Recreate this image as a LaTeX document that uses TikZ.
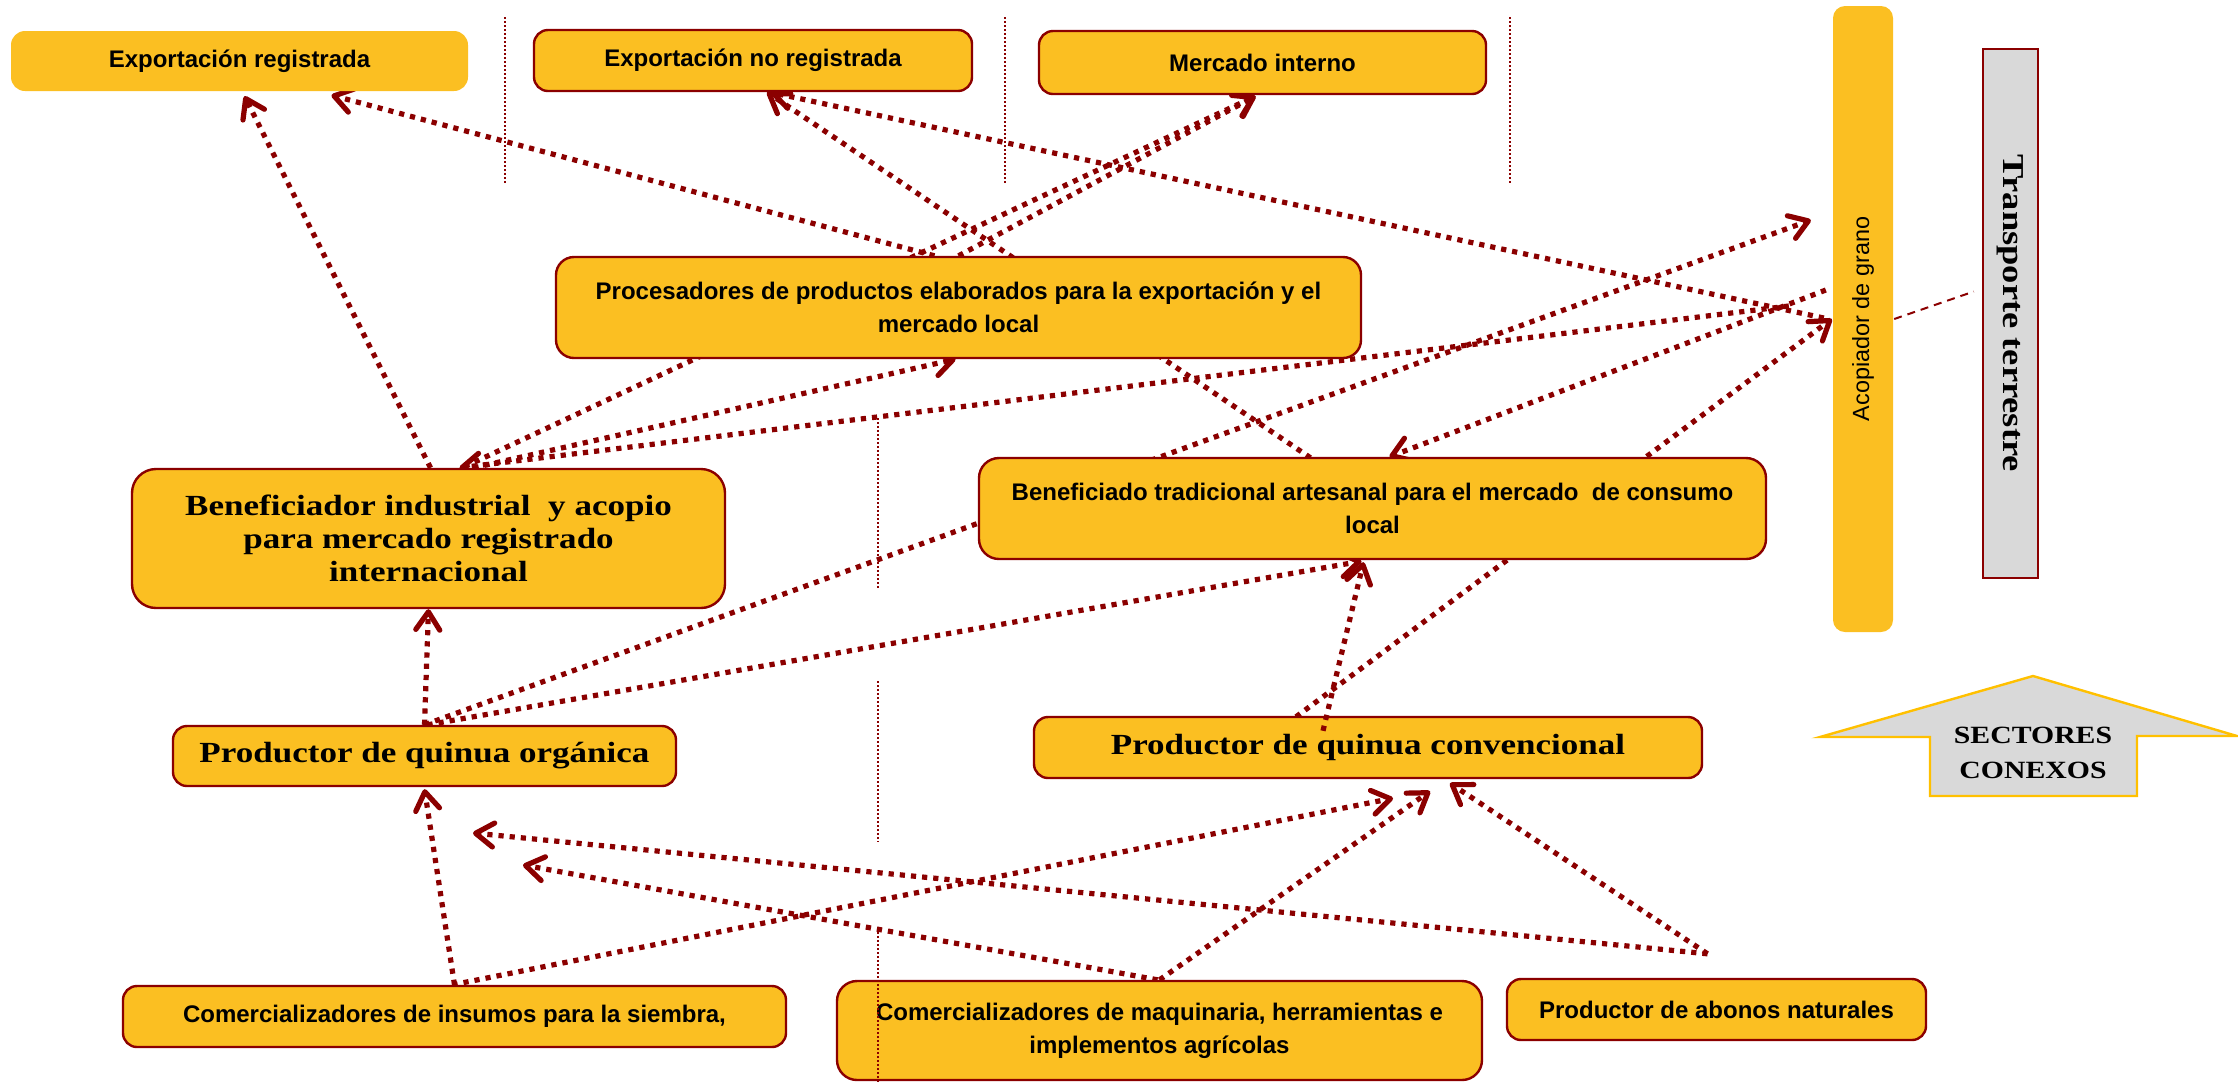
\documentclass[tikz,border=0pt]{standalone}
\usepackage{fontspec}
\newfontfamily\labelsans{Liberation Sans}
\newfontfamily\labelserif{Liberation Serif}[FakeStretch=1.2]
\usetikzlibrary{arrows.meta}
\definecolor{boxfill}{HTML}{FBBF22}
\definecolor{wine}{HTML}{8B0000}
\definecolor{panelgray}{HTML}{D9D9D9}
\definecolor{goldline}{HTML}{FFC000}
\pgfdeclarelayer{links}
\pgfsetlayers{links,main}

\begin{document}
\begin{tikzpicture}[x=0.5pt,y=-0.5pt,
  box/.style={draw=wine, line width=1.2pt, fill=boxfill, rounded corners=7pt, inner sep=0pt, align=center},
  sanstext/.style={font=\labelsans\bfseries\fontsize{12}{16.5}\selectfont},
  seriftext/.style={font=\labelserif\bfseries\fontsize{14.6}{16.5}\selectfont},
  link/.style={draw=wine, line width=2.6pt, dash pattern=on 2.6pt off 3pt,
    -{Straight Barb[length=9pt,width=12pt,round]}},
  guide/.style={draw=wine, line width=1pt, dash pattern=on 1pt off 1pt},
]
\useasboundingbox (0,0) rectangle (2238,1084);

% markets
\node[box, draw=none, sanstext, minimum width=228.5pt, minimum height=30pt] (expreg) at (239.5,61) {Exportación registrada};
\node[box, sanstext, minimum width=219pt, minimum height=30.5pt] (expnoreg) at (753,60.5) {Exportación no registrada};
\node[box, sanstext, minimum width=223.5pt, minimum height=31.5pt] (mercado) at (1262.5,62.5) {Mercado interno};

% processing stage
\node[box, sanstext, rounded corners=9pt, minimum width=402.5pt, minimum height=50.5pt] (proc) at (958.5,307.5)
  {Procesadores de productos elaborados para la exportación y el\\mercado local};
\node[box, seriftext, rounded corners=12pt, minimum width=296.5pt, minimum height=69.5pt] (bi) at (428.5,538.5)
  {Beneficiador industrial~ y acopio\\para mercado registrado\\internacional};
\node[box, sanstext, rounded corners=10pt, minimum width=393.5pt, minimum height=50.5pt] (bt) at (1372.5,508.5)
  {Beneficiado tradicional artesanal para el mercado~ de consumo\\local};

% grain collector and transport
\node[box, draw=none, rounded corners=6pt, minimum width=30pt, minimum height=313pt] (acop) at (1863,319) {};
\node[rotate=90, font=\labelsans\fontsize{11.7}{14}\selectfont] (acoptext) at (acop.center) {Acopiador de grano};
\node[draw=wine, line width=1.2pt, fill=panelgray, inner sep=0pt, minimum width=27.5pt, minimum height=264.5pt] (transp) at (2010.5,313.5) {};
\node[rotate=-90, font=\labelserif\bfseries\fontsize{15.2}{17}\selectfont] (transptext) at (transp.center) {Transporte terrestre};

% producers
\node[box, seriftext, minimum width=251.5pt, minimum height=30pt] (org) at (424.5,756) {Productor de quinua orgánica};
\node[box, seriftext, minimum width=334pt, minimum height=30.5pt] (conv) at (1368,747.5) {Productor de quinua convencional};

% suppliers
\node[box, sanstext, minimum width=331.5pt, minimum height=30.5pt] (ins) at (454.5,1016.5) {Comercializadores de insumos para la siembra,};
\node[box, sanstext, rounded corners=10pt, minimum width=322.5pt, minimum height=49.5pt] (maq) at (1159.5,1030.5)
  {Comercializadores de maquinaria, herramientas e\\implementos agrícolas};
\node[box, sanstext, minimum width=209.5pt, minimum height=30.5pt] (abonos) at (1716.5,1009.5) {Productor de abonos naturales};

% free ends of some connectors
\coordinate (organicaTip) at ([shift={(-21,-99)}]acop.west);
\coordinate (insumosTip) at ([shift={(25,19)}]conv.south);
\coordinate (abonosSrc) at ([shift={(-9,-24)}]abonos.north);
\coordinate (abonosTip) at (473,833);
\coordinate (maqTip) at (523,865);
\coordinate (transpEnd) at ([shift={(-8,-22)}]transp.west);

% related sectors arrow
\draw[draw=goldline, line width=1.2pt, fill=panelgray]
  (1820,737) -- (2033,676) -- (2237,736) -- (2137,736) -- (2137,796) -- (1930,796) -- (1930,737) -- cycle;
\node[font=\labelserif\bfseries\fontsize{12.4}{17.5}\selectfont, align=center] (sect) at (2033,753) {SECTORES\\CONEXOS};

\begin{pgfonlayer}{links}
  % towards the markets
  \draw[link] ([shift={(2,0)}]bi.north) -- ([shift={(5,4)}]expreg.south);
  \draw[link] ([shift={(-24,0)}]proc.north) -- ([shift={(92,3)}]expreg.south);
  \draw[link] ([shift={(-62,1)}]bt.north) -- ([shift={(14,0)}]expnoreg.south);
  \draw[link] ([shift={(-8,-1)}]acop.west) -- ([shift={(17,0)}]expnoreg.south);
  \draw[link] ([shift={(36,-1)}]bi.north) -- ([shift={(-7,1)}]mercado.south);
  \draw[link] (proc.north) -- ([shift={(-7,1)}]mercado.south);
  % between processors and collectors
  \draw[link] ([shift={(45,0)}]bi.north) -- ([shift={(-3,0)}]proc.south);
  \draw[link] ([shift={(-43,-13)}]acop.west) -- ([shift={(31,0)}]bi.north);
  \draw[link] (org.north) -- (organicaTip);
  \draw[link] ([shift={(-6,-29)}]acop.west) -- ([shift={(17,0)}]bt.north);
  \draw[link] ([shift={(-72,1)}]conv.north) -- (acop.west);
  \draw[link] (org.north) -- (bi.south);
  \draw[link] ([shift={(3,0)}]org.north) -- ([shift={(-11,1)}]bt.south);
  % suppliers
  \draw[link] (ins.north) -- ([shift={(0,2)}]org.south);
  \draw[link] ([shift={(-2,0)}]ins.north) -- (insumosTip);
  \draw[link] (abonosSrc) -- (abonosTip);
  \draw[link] (maq.north) -- ([shift={(62,12)}]conv.south);
  \draw[link] ([shift={(-2,0)}]maq.north) -- (maqTip);
  \draw[link] (abonosSrc) -- ([shift={(82,4)}]conv.south);
\end{pgfonlayer}

% conventional producer to traditional processing, drawn over the box
\draw[link] ([shift={(-45,15)}]conv.north) -- ([shift={(-9,2)}]bt.south);

% link to land transport
\draw[draw=wine, line width=1pt, dash pattern=on 4pt off 3pt] (acop.east) -- (transpEnd);

% column separators
\draw[guide] (505,17) -- (505,183);
\draw[guide] (1005,17) -- (1005,183);
\draw[guide] (1510,17) -- (1510,183);
\draw[guide] (878,418) -- (878,588);
\draw[guide] (878,681) -- (878,842);
\draw[guide] (878,928) -- (878,1084);
\end{tikzpicture}
\end{document}
